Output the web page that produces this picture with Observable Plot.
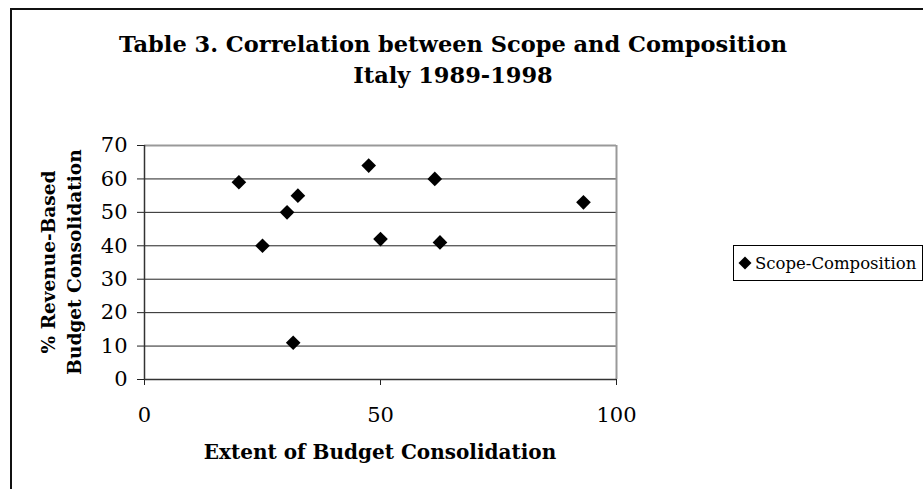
<!DOCTYPE html>
<html>
<head>
<meta charset="utf-8">
<script src="https://cdn.jsdelivr.net/npm/d3@7"></script>
<script src="https://cdn.jsdelivr.net/npm/@observablehq/plot@0.6"></script>
<style>
  html, body { margin: 0; padding: 0; background: #fff; }
  #wrap { position: relative; width: 923px; height: 489px; overflow: hidden; font-family: "DejaVu Serif", serif; }
  #frame { position: absolute; left: 10px; top: 8px; width: 1000px; height: 600px; border-left: 2px solid #111; border-top: 2px solid #111; }
  #title { position: absolute; left: 0; width: 906px; top: 29px; text-align: center; font-weight: bold; font-size: 22.5px; line-height: 31px; color: #000; }
  .ylab { position: absolute; font-weight: bold; font-size: 18.5px; white-space: nowrap; transform: translate(-50%, -50%) rotate(-90deg); color: #000; }
  #xlab { position: absolute; left: 380px; top: 452px; transform: translate(-50%, -50%); font-weight: bold; font-size: 20px; white-space: nowrap; color: #000; }
  #legend { position: absolute; left: 733px; top: 245px; width: 190px; height: 36px; border: 1px solid #000; box-sizing: border-box; display: flex; align-items: center; font-size: 16.5px; white-space: nowrap; color: #000; }
  #legend svg { margin: 0 3px 0 4px; flex: none; }
  #chart { position: absolute; left: 0; top: 0; }
</style>
</head>
<body>
<div id="wrap">
  <div id="frame"></div>
  <div id="chart"></div>
  <div id="title">Table 3. Correlation between Scope and Composition<br>Italy 1989-1998</div>
  <div class="ylab" style="left:48px; top:262px;">% Revenue-Based</div>
  <div class="ylab" style="left:74px; top:262px;">Budget Consolidation</div>
  <div id="xlab">Extent of Budget Consolidation</div>
  <div id="legend"><svg width="14" height="14" viewBox="-7 -7 14 14"><path d="M0,-6.5L6.5,0L0,6.5L-6.5,0Z" fill="#000"/></svg><span>Scope-Composition</span></div>
</div>
<script>
const seriesName = "Scope-Composition";
const extent = [20, 47.5, 61.5, 32.5, 30.2, 93, 25, 50, 62.6, 31.5];
const revenueShare = [59, 64, 60, 55, 50, 53, 40, 42, 41, 11];
const xTicks = [0, 50, 100];
const yTicks = [0, 10, 20, 30, 40, 50, 60, 70];

const data = extent.map((x, i) => ({x, y: revenueShare[i]}));

const chart = Plot.plot({
  width: 923,
  height: 489,
  marginLeft: 144,
  marginRight: 307,
  marginTop: 145,
  marginBottom: 110,
  style: {fontFamily: "DejaVu Serif", fontSize: "21px", color: "#000", background: "transparent", overflow: "visible"},
  x: {domain: [0, 100]},
  y: {domain: [0, 70]},
  marks: [
    Plot.ruleY(yTicks.filter(v => v > 0 && v < 70), {stroke: "#222", strokeWidth: 1}),
    Plot.ruleY([70], {stroke: "#999", strokeWidth: 2}),
    Plot.ruleX([100], {stroke: "#999", strokeWidth: 2}),
    Plot.axisY({ticks: yTicks, tickSize: 7, tickPadding: 10, label: null, stroke: "#222"}),
    Plot.axisX({ticks: xTicks, tickSize: 6, tickPadding: 22, label: null, stroke: "#222"}),
    Plot.ruleX([0], {stroke: "#333", strokeWidth: 1.5}),
    Plot.ruleY([0], {stroke: "#333", strokeWidth: 1.5}),
    Plot.dot(data, {x: "x", y: "y", symbol: "diamond2", r: 6.6, fill: "#000", stroke: "none", title: d => seriesName})
  ]
});
document.getElementById("chart").appendChild(chart);
</script>
</body>
</html>
